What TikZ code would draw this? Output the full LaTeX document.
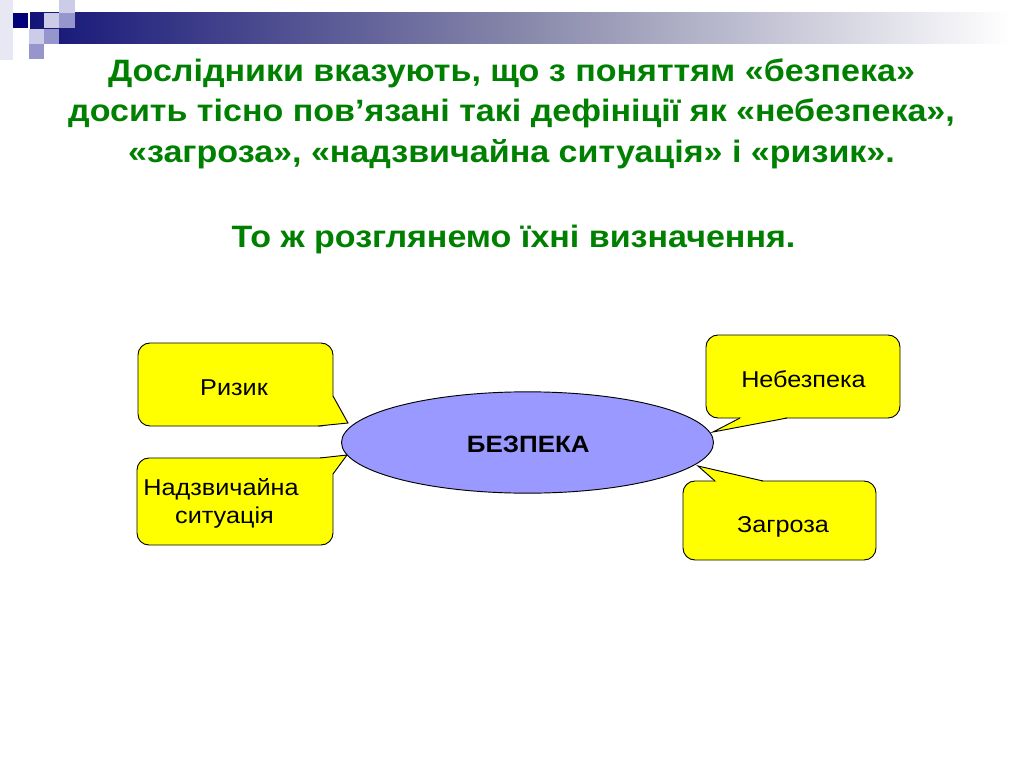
\documentclass[tikz,border=0pt]{standalone}
\usepackage{fontspec}
\setmainfont[FakeStretch=1.1]{Liberation Sans}
\usetikzlibrary{shapes.geometric}
\definecolor{titlegreen}{RGB}{0,128,0}
\definecolor{boxyellow}{RGB}{255,255,0}
\definecolor{ellblue}{RGB}{153,153,255}
\definecolor{navy1}{RGB}{20,20,120}
\definecolor{midbar}{RGB}{135,135,170}
\definecolor{sqdark}{RGB}{0,0,120}
\definecolor{sqmid}{RGB}{150,150,204}
\definecolor{sqlight}{RGB}{204,204,232}
\definecolor{sqfaint}{RGB}{232,232,244}
\begin{document}
\begin{tikzpicture}[x=0.75pt,y=-0.75pt,
  titleline/.style={anchor=base,text=titlegreen,font=\bfseries\fontsize{23.2}{28}\selectfont,inner sep=0pt},
  callbox/.style={draw=black,line width=0.7pt,fill=boxyellow,rounded corners=9pt},
  boxtext/.style={anchor=base,inner sep=0pt,font=\fontsize{17.2}{21}\selectfont},
  tailfill/.style={fill=boxyellow},
  taildraw/.style={draw=black,line width=0.7pt,line join=miter}]
\useasboundingbox (0,0) rectangle (1024,767);
\fill[white] (0,0) rectangle (1024,767);
% top decoration
\shade[left color=navy1,right color=white,middle color=midbar] (30,13) rectangle (1010,44);
\fill[sqfaint] (0,0) rectangle (13,60);
\fill[sqdark] (13,13) rectangle (28,28);
\fill[sqlight] (44,13) rectangle (59,28);
\fill[sqlight] (59,0) rectangle (75,13);
\fill[sqmid] (59,13) rectangle (75,28);
\fill[sqlight] (29,29) rectangle (44,44);
\fill[sqmid] (44,29) rectangle (59,44);
\fill[sqmid] (29,44) rectangle (44,59);
% title
\node[titleline] (t1) at (511.5,82) {Дослідники вказують, що з поняттям «безпека»};
\node[titleline] (t2) at (511.5,122) {досить тісно пов’язані такі дефініції як «небезпека»,};
\node[titleline] (t3) at (511.5,162) {«загроза», «надзвичайна ситуація» і «ризик».};
\node[titleline] (t4) at (513.5,247) {То ж розглянемо їхні визначення.};
% callout boxes
\node[callbox,minimum width=146.25pt,minimum height=62.25pt] (riz) at (235.5,384.5) {};
\node[callbox,minimum width=147pt,minimum height=65.25pt] (nad) at (235,501.5) {};
\node[callbox,minimum width=145.5pt,minimum height=62.25pt] (neb) at (803,376.5) {};
\node[callbox,minimum width=144.75pt,minimum height=59.25pt] (zag) at (779.5,520.5) {};
% tails
\fill[tailfill] (333,396) -- (348,423) -- (318,426) -- (318,410) -- cycle;
\draw[taildraw] (333,396) -- (348,423) -- (318,426);
\fill[tailfill] (320,458) -- (347,455) -- (333,474) -- (318,470) -- cycle;
\draw[taildraw] (320,458) -- (347,455) -- (333,474);
\fill[tailfill] (740,418) -- (713,432) -- (787,418) -- (760,410) -- cycle;
\draw[taildraw] (740,418) -- (713,432) -- (787,418);
\fill[tailfill] (715,481) -- (698,466) -- (763,481) -- (740,490) -- cycle;
\draw[taildraw] (715,481) -- (698,466) -- (763,481);
% box texts
\node[boxtext] (rizt) at (234,395) {Ризик};
\node[boxtext] (nadt1) at (221,495.5) {Надзвичайна};
\node[boxtext] (nadt2) at (224.5,523.5) {ситуація};
\node[boxtext] (nebt) at (803.5,387) {Небезпека};
\node[boxtext] (zagt) at (783,532) {Загроза};
% ellipse
\node[ellipse,draw=black,line width=0.7pt,fill=ellblue,minimum width=279pt,minimum height=76pt,inner sep=0pt] (bez) at (527.5,442.5) {};
\node[anchor=base,inner sep=0pt,font=\bfseries\fontsize{17.7}{21}\selectfont] (bezt) at (528.3,452) {БЕЗПЕКА};
\end{tikzpicture}
\end{document}
